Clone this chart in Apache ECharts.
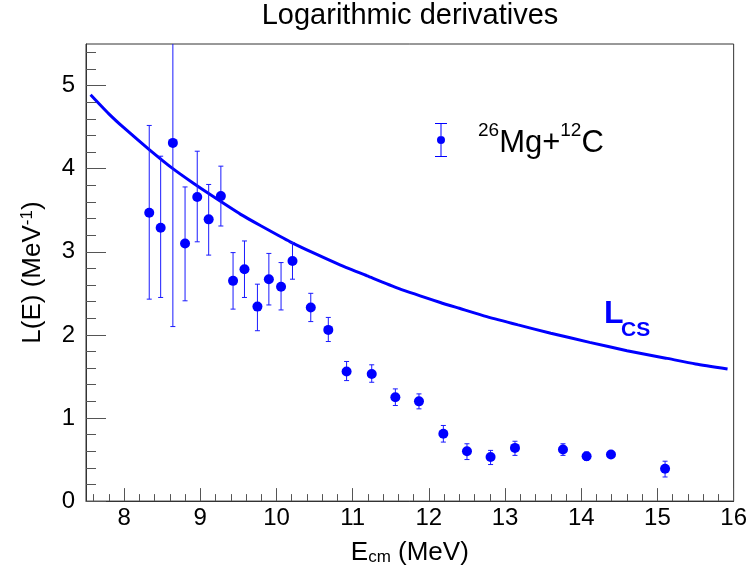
<!DOCTYPE html>
<html>
<head>
<meta charset="utf-8">
<script src="https://cdn.jsdelivr.net/npm/echarts@6/dist/echarts.min.js"></script>
<style>html,body{margin:0;padding:0;background:#fff}#c{width:750px;height:571px}</style>
</head>
<body>
<div id="c"></div>
<script>
// ---- data ----
var energy = [8.33, 8.48, 8.64, 8.80, 8.96, 9.11, 9.27, 9.43, 9.58, 9.75, 9.90, 10.06, 10.21, 10.45, 10.68, 10.92, 11.25, 11.56, 11.87, 12.19, 12.50, 12.81, 13.13, 13.76, 14.07, 14.39, 15.10];
var lval   = [3.47, 3.29, 4.31, 3.10, 3.66, 3.39, 3.67, 2.65, 2.79, 2.34, 2.67, 2.58, 2.89, 2.33, 2.06, 1.56, 1.53, 1.25, 1.20, 0.81, 0.60, 0.53, 0.64, 0.62, 0.54, 0.56, 0.39];
var upper  = [4.52, 4.15, 6.50, 3.78, 4.21, 3.81, 4.03, 2.99, 3.13, 2.61, 2.98, 2.87, 3.11, 2.50, 2.21, 1.68, 1.64, 1.35, 1.29, 0.91, 0.69, 0.61, 0.72, 0.69, 0.59, 0.59, 0.48];
var lower  = [2.43, 2.45, 2.10, 2.41, 3.12, 2.96, 3.31, 2.31, 2.45, 2.05, 2.36, 2.30, 2.67, 2.16, 1.92, 1.45, 1.43, 1.15, 1.11, 0.71, 0.50, 0.44, 0.55, 0.55, 0.49, 0.53, 0.29];
var curveE = [7.56, 7.80, 8.00, 8.33, 8.64, 8.90, 9.11, 9.53, 9.80, 10.18, 10.50, 10.84, 11.19, 11.60, 12.15, 12.40, 12.76, 13.17, 13.60, 14.11, 14.60, 15.11, 15.50, 15.92];
var curveL = [4.89, 4.66, 4.49, 4.23, 4.00, 3.83, 3.70, 3.45, 3.31, 3.12, 2.98, 2.84, 2.71, 2.56, 2.39, 2.32, 2.22, 2.12, 2.02, 1.91, 1.81, 1.72, 1.65, 1.59];
var xTicks = [8, 9, 10, 11, 12, 13, 14, 15, 16];
var yTicks = [0, 1, 2, 3, 4, 5];
var seriesName = '26Mg+12C';

// ---- build ----
var FONT = 'Liberation Sans, Arial, Helvetica, sans-serif';
var xMinor = [], yMinor = [];
for (var i = 38; i <= 80; i++) { var v = Math.round(i * 2) / 10; if (v >= 7.6 && v <= 16) xMinor.push(v); }
for (var j = 1; j <= 27; j++) yMinor.push(Math.round(j * 2) / 10);

var pts = energy.map(function (e, k) { return [e, lval[k]]; });
var errs = energy.map(function (e, k) { return [e, lower[k], upper[k]]; });
var curve = curveE.map(function (e, k) { return [e, curveL[k]]; });

var chart = echarts.init(document.getElementById('c'), null, { renderer: 'canvas' });
var tickColor = '#555';
var option = {
  backgroundColor: '#fff',
  animation: false,
  textStyle: { fontFamily: FONT },
  title: {
    text: 'Logarithmic derivatives',
    left: 405, top: -4, textAlign: 'center',
    textStyle: { fontFamily: FONT, fontSize: 29, fontWeight: 'normal', color: '#000' }
  },
  grid: { left: 86, right: 15, top: 44, bottom: 64, show: true, borderColor: '#333', borderWidth: 1, backgroundColor: 'transparent' },
  legend: {
    data: [{ name: seriesName, icon: 'path://M0 0H12V1H0Z M5.5 0H6.5V34H5.5Z M0 33H12V34H0Z M6 13A4 4 0 1 1 6 21A4 4 0 1 1 6 13Z' }],
    left: 430, top: 116, itemWidth: 12, itemHeight: 34,
    formatter: function () { return '{sp| }{sup|26}{b|Mg+}{sup|12}{b|C}'; },
    textStyle: {
      fontFamily: FONT, color: '#000',
      rich: {
        sp: { width: 26, fontSize: 10 },
        b: { fontSize: 31, fontFamily: FONT, lineHeight: 38, verticalAlign: 'bottom', color: '#000' },
        sup: { fontSize: 19, fontFamily: FONT, lineHeight: 19, verticalAlign: 'top', color: '#000' }
      }
    }
  },
  xAxis: [{
    type: 'value', min: 7.5, max: 16, position: 'bottom',
    axisLine: { show: true, onZero: false, lineStyle: { color: '#333' } },
    axisTick: { show: true, inside: true, length: 13, customValues: xTicks, lineStyle: { color: tickColor } },
    axisLabel: { customValues: xTicks, fontSize: 24, margin: 5, color: '#000', fontFamily: FONT },
    splitLine: { show: false },
    name: '{m|E}{s|cm}{m| (MeV)}', nameLocation: 'middle', nameGap: 29,
    nameTextStyle: {
      fontFamily: FONT, color: '#000',
      rich: {
        m: { fontSize: 26, lineHeight: 26, verticalAlign: 'top', fontFamily: FONT, color: '#000' },
        s: { fontSize: 17, lineHeight: 17, padding: [14, 0, 0, 0], verticalAlign: 'bottom', fontFamily: FONT, color: '#000' }
      }
    }
  }, {
    type: 'value', min: 7.5, max: 16, position: 'bottom',
    axisLine: { show: false },
    axisTick: { show: true, inside: true, length: 7, customValues: xMinor, lineStyle: { color: tickColor } },
    axisLabel: { show: false }, splitLine: { show: false }
  }],
  yAxis: [{
    type: 'value', min: 0, max: 5.5, position: 'left',
    axisLine: { show: true, onZero: false, lineStyle: { color: '#333' } },
    axisTick: { show: true, inside: true, length: 20, customValues: yTicks, lineStyle: { color: tickColor } },
    axisLabel: { customValues: yTicks, fontSize: 24, margin: 11, color: '#000', fontFamily: FONT },
    splitLine: { show: false },
    name: '{m|L(E) (MeV}{p|-1}{m|)}', nameLocation: 'middle', nameGap: 40,
    nameTextStyle: {
      fontFamily: FONT, color: '#000',
      rich: {
        m: { fontSize: 26, lineHeight: 27, verticalAlign: 'bottom', fontFamily: FONT, color: '#000' },
        p: { fontSize: 17, lineHeight: 17, padding: [0, 0, 12, 0], verticalAlign: 'top', fontFamily: FONT, color: '#000' }
      }
    }
  }, {
    type: 'value', min: 0, max: 5.5, position: 'left',
    axisLine: { show: false },
    axisTick: { show: true, inside: true, length: 10, customValues: yMinor, lineStyle: { color: tickColor } },
    axisLabel: { show: false }, splitLine: { show: false }
  }],
  graphic: [
    { type: 'text', left: 604, top: 298, style: { text: 'L', fontFamily: FONT, fontSize: 32, fontWeight: 'bold', fill: '#0000ff' } },
    { type: 'text', left: 621, top: 320, style: { text: 'CS', fontFamily: FONT, fontSize: 21, fontWeight: 'bold', fill: '#0000ff' } }
  ],
  series: [{
    name: 'Lcs', type: 'line', data: curve, xAxisIndex: 0, yAxisIndex: 0,
    smooth: 0.2, showSymbol: false, symbol: 'none',
    lineStyle: { color: '#0000ff', width: 3 }, z: 2, silent: true
  }, {
    name: 'err', type: 'custom', data: errs, xAxisIndex: 0, yAxisIndex: 0, clip: true, z: 3,
    renderItem: function (params, api) {
      var x = api.value(0);
      var a = api.coord([x, api.value(1)]);
      var b = api.coord([x, api.value(2)]);
      var cw = 2.5;
      var st = { stroke: '#1a1aff', lineWidth: 1 };
      return { type: 'group', children: [
        { type: 'line', shape: { x1: a[0], y1: a[1], x2: b[0], y2: b[1] }, style: st },
        { type: 'line', shape: { x1: a[0] - cw, y1: a[1], x2: a[0] + cw, y2: a[1] }, style: st },
        { type: 'line', shape: { x1: b[0] - cw, y1: b[1], x2: b[0] + cw, y2: b[1] }, style: st }
      ]};
    }
  }, {
    name: seriesName, type: 'scatter', data: pts, xAxisIndex: 0, yAxisIndex: 0,
    symbol: 'circle', symbolSize: 10, itemStyle: { color: '#0000ff', opacity: 1 }, z: 4
  }]
};
chart.setOption(option);
</script>
</body>
</html>
